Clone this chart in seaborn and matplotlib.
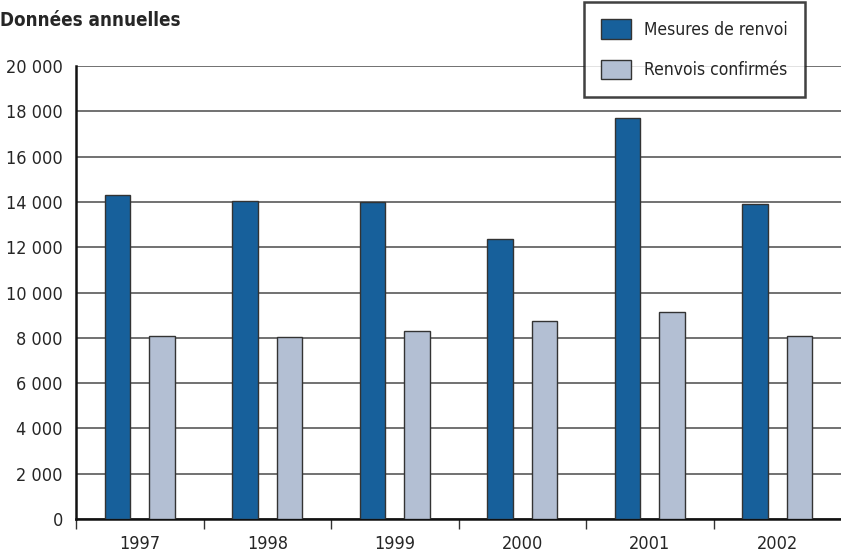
import numpy as np
import pandas as pd
import matplotlib
matplotlib.use("Agg")
import matplotlib.pyplot as plt
import seaborn as sns

# données
annees = ["1997", "1998", "1999", "2000", "2001", "2002"]
mesures_renvoi = [14300, 14050, 14000, 12380, 17720, 13920]
renvois_confirmes = [8100, 8050, 8320, 8750, 9160, 8090]
series = ["Mesures de renvoi", "Renvois confirmés"]
couleurs = ["#17609b", "#b3bfd3"]

df = pd.DataFrame({
    "annee": annees * 2,
    "valeur": mesures_renvoi + renvois_confirmes,
    "serie": [series[0]] * len(annees) + [series[1]] * len(annees),
})

sns.set_style("white")
plt.rcParams["font.family"] = ["DejaVu Sans"]
plt.rcParams["font.stretch"] = "condensed"

fig = plt.figure(figsize=(8.41, 5.56), dpi=100)
ax = fig.add_axes([0.0904, 0.0665, 0.9096, 0.8147])

sns.barplot(data=df, x="annee", y="valeur", hue="serie", palette=couleurs,
            saturation=1, width=0.7, gap=0.43, edgecolor="#333333",
            linewidth=1.0, ax=ax, zorder=3)

ax.set_xlim(-0.5, 5.5)
ax.set_ylim(0, 20000)
ax.set_yticks(np.arange(0, 20001, 2000))
ax.set_yticklabels([f"{v:,}".replace(",", " ") for v in range(0, 20001, 2000)])
ax.yaxis.grid(True, color="#4a4a4a", linewidth=1.1, zorder=0)
ax.set_axisbelow(True)

# ticks aux limites des catégories, étiquettes au centre
ax.set_xticks(np.arange(-0.5, 5.5, 1.0))
ax.set_xticklabels([])
ax.set_xticks(np.arange(0, 6), minor=True)
ax.set_xticklabels(annees, minor=True)
ax.tick_params(axis="x", which="major", direction="out", length=7.5,
               width=1.0, color="#333333", bottom=True)
ax.tick_params(axis="x", which="minor", length=0, pad=11.5, labelsize=13)
ax.tick_params(axis="y", length=0, pad=9.5, labelsize=13)

ax.set_xlabel("")
ax.set_ylabel("")
for s in ["top", "right"]:
    ax.spines[s].set_visible(False)
for s in ["left", "bottom"]:
    ax.spines[s].set_color("#111111")
    ax.spines[s].set_linewidth(1.8)

fig.text(0.0, 0.954, "Données annuelles", fontsize=13.5, fontweight="bold",
         ha="left", va="baseline")

handles, labels = ax.get_legend_handles_labels()
ax.legend_.remove()
leg = fig.legend(handles, labels, loc="upper right",
                 bbox_to_anchor=(805 / 841, 1 - 2 / 556),
                 frameon=True, fancybox=False, fontsize=12.5,
                 handlelength=1.7, handleheight=1.35, borderpad=1.0,
                 labelspacing=1.2, handletextpad=0.75, borderaxespad=0)
leg.get_frame().set_edgecolor("#111111")
leg.get_frame().set_linewidth(1.8)

fig.savefig("out.png", dpi=100)
